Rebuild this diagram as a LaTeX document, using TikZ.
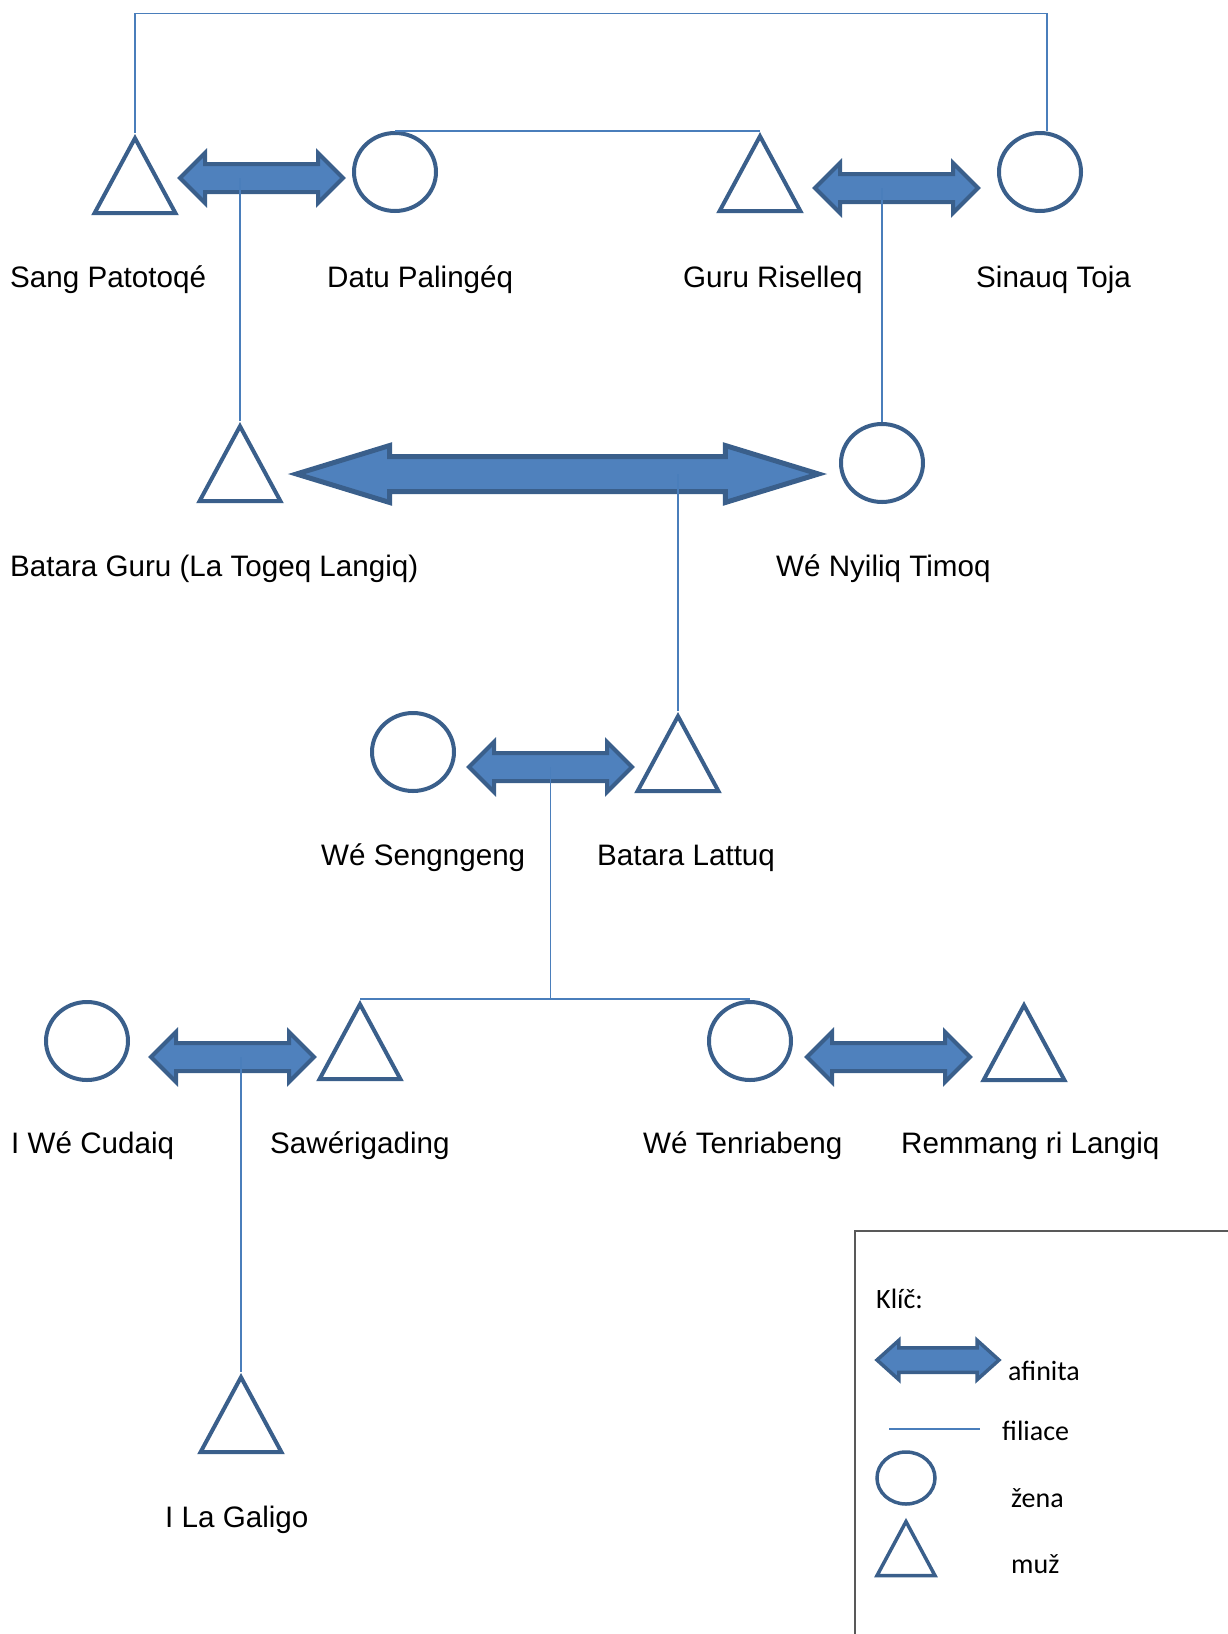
\documentclass[tikz,border=0pt]{standalone}
\usepackage{fontspec}
\setmainfont{Liberation Sans}
\newfontfamily\keyfont{Carlito}
\usetikzlibrary{shapes.geometric,shapes.arrows}
\definecolor{rim}{HTML}{3A5F8B}
\definecolor{afinblue}{HTML}{4F81BD}
\definecolor{filline}{HTML}{4A7EBB}
\definecolor{keygray}{HTML}{595959}
\begin{document}
\begin{tikzpicture}[x=1pt,y=-1pt,
	muz/.style={draw=rim, line width=4pt, isosceles triangle, isosceles triangle stretches, shape border rotate=90, minimum width=81, minimum height=75, inner sep=0pt, anchor=apex},
	zena/.style={draw=rim, line width=4pt, ellipse, minimum width=82, minimum height=78, inner sep=0pt},
	afin/.style={double arrow, draw=rim, fill=afinblue, line width=4pt, inner xsep=0pt, inner ysep=12pt, double arrow head extend=11pt, minimum height=163},
	fil/.style={draw=filline, line width=1.6pt},
	lbl/.style={anchor=base west, inner sep=0pt, font=\fontsize{29.6}{34}\selectfont},
	key/.style={anchor=base west, inner sep=0pt, font=\keyfont\fontsize{28}{34}\selectfont}]
	\useasboundingbox (0,0) rectangle (1228,1634);
	\foreach \n/\x/\y in {tSang/135/133,tGuru/760/131,tBatara/240/421,tLattuq/678/711,tSawe/360/999,tRemmang/1024/1000,tGaligo/241/1372}
		\node [muz] (\n) at (\x,\y) {};
	\foreach \n/\x/\y in {cDatu/395/172,cSinauq/1040/172,cNyiliq/882/463,cSengngeng/413/752,cCudaiq/87/1041,cTenri/750/1041}
		\node [zena] (\n) at (\x,\y) {};
	\foreach \n/\x/\y in {aSP/261.5/178,aGS/896.5/188,aSL/550.5/767,aCS/232.5/1057,aTR/888.5/1057}
		\node [afin] (\n) at (\x,\y) {};
	\node [afin, minimum height=522, line width=5pt, inner ysep=15pt, double arrow head extend=11pt, double arrow tip angle=34] (aBN) at (557.5,474) {};
	\draw [fil] (tSang.apex) -- ++(0,-119.5) -| ([xshift=7]cSinauq.north);
	\draw [fil] (cDatu.north) -- (tGuru.apex);
	\draw [fil] (tBatara.apex |- aSP.center) -- (tBatara.apex);
	\draw [fil] (cNyiliq.north |- aGS.center) -- (cNyiliq.north);
	\draw [fil] (tLattuq.apex |- aBN.center) -- (tLattuq.apex);
	\draw [fil] (aSL.center) -- (aSL.center |- tSawe.apex);
	\draw [fil] (tSawe.apex) -- (cTenri.north |- tSawe.apex);
	\draw [fil] (tGaligo.apex |- aCS.center) -- (tGaligo.apex);
	\foreach \n/\x/\y/\t in {lSang/10/287/Sang Patotoqé,lDatu/327/287/Datu Palingéq,lGuru/683/287/Guru Riselleq,lSinauq/976/287/Sinauq Toja,
		lBatara/10/576/Batara Guru (La Togeq Langiq),lNyiliq/776/576/Wé Nyiliq Timoq,lSengngeng/321/865/Wé Sengngeng,lLattuq/597/865/Batara Lattuq,
		lCudaiq/11/1153/I Wé Cudaiq,lSawe/270/1153/Sawérigading,lTenri/643/1153/Wé Tenriabeng,lRemmang/901/1153/Remmang ri Langiq,lGaligo/165/1527/I La Galigo}
		\node [lbl] (\n) at (\x,\y) {\t};
	\draw [draw=keygray, line width=1.5pt] (1228,1231) -| (855,1634);
	\node [key] (kTitle) at (876,1308) {Klíč:};
	\node [afin, minimum height=122, line width=3.5pt, inner ysep=10.5pt, double arrow head extend=7.5pt, double arrow tip angle=84] (kAfin) at (938,1360) {};
	\node [key] (kAfinita) at (1008,1380) {afinita};
	\coordinate (kFilA) at (889,1429);
	\coordinate (kFilB) at (980,1429);
	\draw [fil] (kFilA) -- (kFilB);
	\node [key] (kFiliace) at (1002,1440) {filiace};
	\node [zena, minimum width=58, minimum height=52, line width=3.5pt] (kZ) at (906,1478) {};
	\node [key] (kZena) at (1011,1507) {žena};
	\node [muz, minimum width=58, minimum height=54, line width=3.5pt] (kM) at (906,1517) {};
	\node [key] (kMuz) at (1011,1573) {muž};
\end{tikzpicture}
\end{document}
